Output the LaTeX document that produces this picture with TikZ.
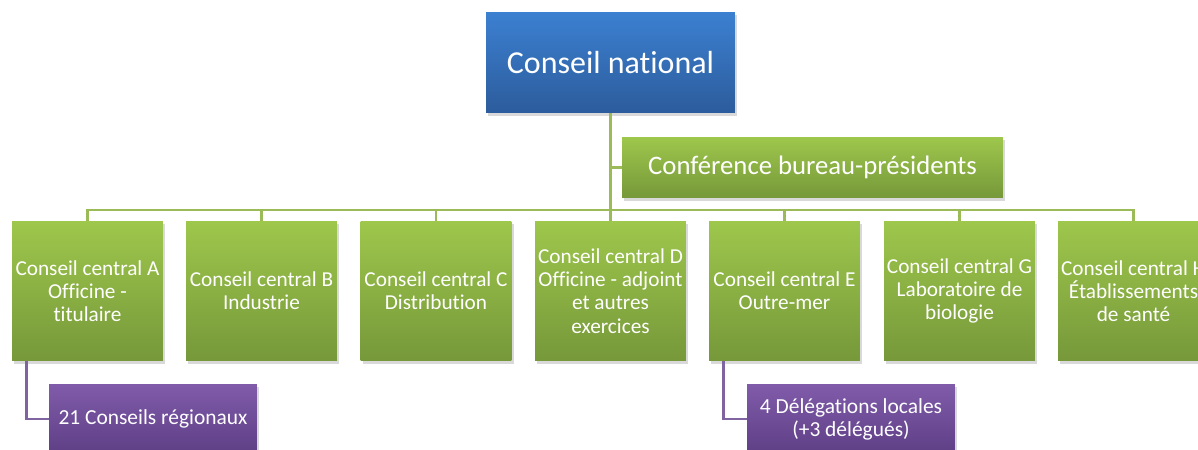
\documentclass[tikz,border=0pt]{standalone}
\usepackage{fontspec}
\setmainfont{Carlito}[Ligatures=NoCommon]
\usetikzlibrary{shadows}
\definecolor{bluetop}{RGB}{60,128,209}
\definecolor{bluebot}{RGB}{44,92,156}
\definecolor{greentop}{RGB}{158,199,76}
\definecolor{greenbot}{RGB}{118,152,58}
\definecolor{purpletop}{RGB}{128,91,170}
\definecolor{purplebot}{RGB}{94,63,133}
\definecolor{greenline}{RGB}{155,187,89}
\definecolor{purpleline}{RGB}{128,100,162}

\begin{document}
\begin{tikzpicture}[x=0.02cm,y=-0.02cm,
  box/.style={inner sep=0pt,align=center,text=white,
    drop shadow={shadow xshift=1.2pt,shadow yshift=-1.8pt,opacity=0.3}},
  bluebox/.style={box,top color=bluetop,bottom color=bluebot,
    minimum width=4.98cm,minimum height=2.02cm,font=\fontsize{18.2}{22}\selectfont},
  confbox/.style={box,top color=greentop,bottom color=greenbot,
    minimum width=7.62cm,minimum height=1.22cm,font=\fontsize{15.2}{18}\selectfont},
  centralbox/.style={box,top color=greentop,bottom color=greenbot,
    minimum width=3.02cm,minimum height=2.8cm,font=\fontsize{12.1}{13.2}\selectfont},
  localbox/.style={box,top color=purpletop,bottom color=purplebot,
    minimum width=4.16cm,minimum height=1.4cm,font=\fontsize{12.2}{13.2}\selectfont},
  greenlink/.style={draw=greenline,line width=1.4pt},
  purplelink/.style={draw=purpleline,line width=1.4pt}]
  \useasboundingbox (0,0) rectangle (1198,450);
  \clip (0,0) rectangle (1198,450);
  \coordinate (hub) at (610.5,210);
  \node[bluebox] (national) at (610.5,62.5) {Conseil national};
  \node[confbox] (conf) at (812.5,167.5) {Conférence bureau-présidents};
  \node[centralbox] (ccA) at (87.5,291) {Conseil central A\\Officine -\\titulaire};
  \node[centralbox] (ccB) at (261.5,291) {Conseil central B\\Industrie};
  \node[centralbox] (ccC) at (436,291) {Conseil central C\\Distribution};
  \node[centralbox] (ccD) at (610.5,291) {Conseil central D\\Officine - adjoint\\et autres\\exercices};
  \node[centralbox] (ccE) at (784.5,291) {Conseil central E\\Outre-mer};
  \node[centralbox] (ccG) at (959.5,291) {Conseil central G\\Laboratoire de\\biologie};
  \node[centralbox] (ccH) at (1133.5,291) {Conseil central H\\Établissements\\de santé};
  \node[localbox] (regions) at (153,419) {21 Conseils régionaux};
  \node[localbox] (delegations) at (851,419) {4 Délégations locales\\(+3 délégués)};
  \draw[greenlink] (national.south) -- (hub);
  \draw[greenlink] (national.south |- conf.west) -- (conf.west);
  \foreach \b in {ccA,ccB,ccC,ccD,ccE,ccG,ccH}
    \draw[greenlink] (hub) -| (\b.north);
  \draw[purplelink] ([xshift=0.3cm]ccA.south west) |- (regions.west);
  \draw[purplelink] ([xshift=0.3cm]ccE.south west) |- (delegations.west);
\end{tikzpicture}
\end{document}
